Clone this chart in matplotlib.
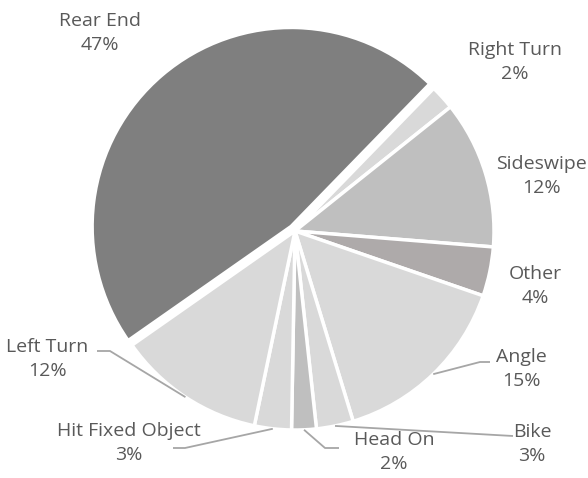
import numpy as np
import matplotlib
matplotlib.use("Agg")
import matplotlib.pyplot as plt

plt.rcParams['font.family'] = ['Open Sans', 'DejaVu Sans']

# crash types, clockwise from the big slice
labels = ["Rear End", "Right Turn", "Sideswipe", "Other", "Angle",
          "Bike", "Head On", "Hit Fixed Object", "Left Turn"]
shares = [47, 2, 12, 4, 15, 3, 2, 3, 12]
colors = ["#7f7f7f", "#d9d9d9", "#bfbfbf", "#aeaaaa", "#d9d9d9",
          "#d9d9d9", "#bfbfbf", "#d9d9d9", "#d9d9d9"]

W, H = 588, 478
fig = plt.figure(figsize=(W / 100, H / 100), dpi=100)
ax = fig.add_axes([0, 0, 1, 1])

cx, cy, r = 295, H - 231, 199
# pie() takes explode in data units, here pixels
explode = [0.03 * r] + [0] * (len(shares) - 1)
wedges, _ = ax.pie(shares, colors=colors, explode=explode, startangle=215,
                   counterclock=False, center=(cx, cy), radius=r,
                   wedgeprops=dict(edgecolor='white', linewidth=2.5),
                   frame=True)
ax.set_xlim(0, W)
ax.set_ylim(0, H)
ax.set_aspect('equal')
ax.axis('off')

# label centres in pixel coords (x, y from top), elbow of leader line or None
label_pos = [(100, 33), (515, 62), (541, 176), (535, 286), (521, 369),
             (532, 444), (394, 452), (129, 443), (47, 359)]
elbow = [None, None, None, None, [(480, 362), (490, 362)],
         [(513, 436)], [(325, 448), (339, 448)], [(185, 448), (173, 448)],
         [(110, 351), (97, 351)]]

txt_color = "#595959"
line_color = "#a6a6a6"
for w, lab, pct, pos, el in zip(wedges, labels, shares, label_pos, elbow):
    ax.text(pos[0], H - pos[1], f"{lab}\n{pct}%", ha='center', va='center',
            fontsize=14, color=txt_color, linespacing=1.45)
    if el is not None:
        mid = np.deg2rad((w.theta1 + w.theta2) / 2)
        x0 = w.center[0] + w.r * np.cos(mid)
        y0 = w.center[1] + w.r * np.sin(mid)
        xs = [x0] + [p[0] for p in el]
        ys = [y0] + [H - p[1] for p in el]
        ax.plot(xs, ys, color=line_color, lw=1.3, solid_capstyle='butt')

fig.savefig("out.png", dpi=100)
